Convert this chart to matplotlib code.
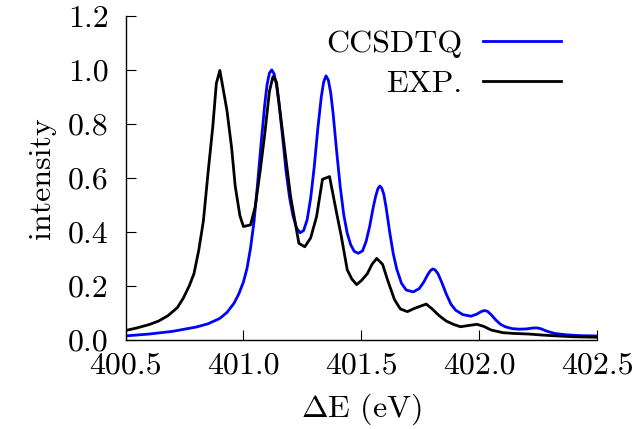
import matplotlib
matplotlib.use("Agg")
import matplotlib.pyplot as plt

# CCSDTQ spectrum
ccsdtq_x = [400.50, 400.60, 400.70, 400.80, 400.85, 400.90, 400.93, 400.96, 400.98,
            401.00, 401.015, 401.03, 401.045, 401.06, 401.075, 401.09, 401.10, 401.11,
            401.12, 401.13, 401.14, 401.15, 401.165, 401.18, 401.195, 401.21, 401.225,
            401.24, 401.255, 401.27, 401.285, 401.30, 401.315, 401.33, 401.34, 401.35,
            401.36, 401.37, 401.38, 401.395, 401.41, 401.425, 401.44, 401.455, 401.47,
            401.487, 401.505, 401.52, 401.535, 401.55, 401.56, 401.57, 401.578, 401.586,
            401.595, 401.605, 401.62, 401.635, 401.65, 401.67, 401.69, 401.72, 401.745,
            401.765, 401.78, 401.792, 401.802, 401.812, 401.825, 401.84, 401.86, 401.88,
            401.90, 401.93, 401.965, 401.99, 402.01, 402.022, 402.035, 402.05, 402.07,
            402.09, 402.11, 402.14, 402.17, 402.20, 402.225, 402.243, 402.26, 402.285,
            402.32, 402.37, 402.43, 402.50]
ccsdtq_y = [0.015, 0.022, 0.032, 0.048, 0.060, 0.080, 0.102, 0.136, 0.170,
            0.215, 0.265, 0.340, 0.440, 0.580, 0.730, 0.870, 0.945, 0.988,
            1.000, 0.985, 0.945, 0.880, 0.760, 0.630, 0.530, 0.460, 0.415,
            0.397, 0.405, 0.445, 0.525, 0.640, 0.780, 0.900, 0.955, 0.978,
            0.962, 0.915, 0.840, 0.700, 0.570, 0.465, 0.395, 0.352, 0.328,
            0.321, 0.330, 0.365, 0.420, 0.490, 0.530, 0.560, 0.570, 0.563,
            0.540, 0.490, 0.400, 0.320, 0.262, 0.210, 0.185, 0.178, 0.190,
            0.215, 0.240, 0.256, 0.263, 0.260, 0.245, 0.215, 0.170, 0.132,
            0.110, 0.094, 0.088, 0.096, 0.106, 0.109, 0.106, 0.094, 0.074,
            0.058, 0.049, 0.042, 0.040, 0.041, 0.044, 0.045, 0.042, 0.033,
            0.024, 0.019, 0.016, 0.015]

# experimental spectrum
exp_x = [400.50, 400.55, 400.60, 400.64, 400.68, 400.72, 400.745, 400.77, 400.79,
         400.81, 400.83, 400.85, 400.87, 400.885, 400.90, 400.93, 400.95, 400.965,
         400.985, 401.00, 401.03, 401.05, 401.07, 401.09, 401.11, 401.125, 401.14,
         401.17, 401.20, 401.235, 401.26, 401.285, 401.31, 401.335, 401.365, 401.395,
         401.415, 401.44, 401.46, 401.48, 401.50, 401.525, 401.545, 401.565, 401.59,
         401.61, 401.64, 401.665, 401.695, 401.725, 401.75, 401.775, 401.80, 401.83,
         401.86, 401.89, 401.92, 401.95, 401.99, 402.02, 402.05, 402.10, 402.15,
         402.21, 402.27, 402.33, 402.40, 402.50]
exp_y = [0.035, 0.045, 0.057, 0.070, 0.090, 0.120, 0.155, 0.200, 0.245,
         0.330, 0.440, 0.620, 0.790, 0.950, 0.998, 0.850, 0.710, 0.570,
         0.460, 0.420, 0.426, 0.494, 0.620, 0.760, 0.920, 0.975, 0.955,
         0.740, 0.530, 0.358, 0.345, 0.378, 0.457, 0.595, 0.605, 0.470,
         0.383, 0.260, 0.225, 0.205, 0.220, 0.245, 0.280, 0.302, 0.280,
         0.225, 0.150, 0.115, 0.105, 0.117, 0.125, 0.133, 0.115, 0.090,
         0.070, 0.058, 0.049, 0.053, 0.058, 0.050, 0.037, 0.027, 0.024,
         0.022, 0.018, 0.015, 0.012, 0.010]

x_ticks = [400.5, 401.0, 401.5, 402.0, 402.5]
y_ticks = [0.0, 0.2, 0.4, 0.6, 0.8, 1.0, 1.2]

plt.rcParams['font.family'] = 'serif'
plt.rcParams['font.serif'] = ['cmr10', 'DejaVu Serif']
plt.rcParams['mathtext.fontset'] = 'cm'
plt.rcParams['axes.formatter.use_mathtext'] = True

fs = 23

fig = plt.figure(figsize=(6.34, 4.29), dpi=100)
ax = fig.add_axes([0.198, 0.2075, 0.744, 0.7555])

ax.plot(ccsdtq_x, ccsdtq_y, color='#0000ff', lw=2.0, label='CCSDTQ')
ax.plot(exp_x, exp_y, color='black', lw=2.0, label='EXP.')

ax.set_xlim(400.5, 402.5)
ax.set_ylim(0, 1.2)
ax.set_xticks(x_ticks)
ax.set_xticklabels(['%.1f' % t for t in x_ticks])
ax.set_yticks(y_ticks)
ax.set_yticklabels(['%.1f' % t for t in y_ticks])

for side in ['top', 'right']:
    ax.spines[side].set_visible(False)
for side in ['left', 'bottom']:
    ax.spines[side].set_linewidth(1.0)

ax.tick_params(direction='in', length=7, width=0.8, labelsize=fs)
ax.tick_params(axis='y', pad=12)
ax.tick_params(axis='x', pad=9)

ax.set_xlabel(r'$\Delta$E (eV)', fontsize=fs, labelpad=8)
ax.set_ylabel('intensity', fontsize=fs, labelpad=9)

ax.legend(loc='upper right', bbox_to_anchor=(0.9227, 0.958), frameon=False,
          fontsize=fs, markerfirst=False, handlelength=2.45,
          handletextpad=0.63, labelspacing=0.36, borderpad=0.0,
          borderaxespad=0.0)

fig.savefig('out.png', dpi=100)
